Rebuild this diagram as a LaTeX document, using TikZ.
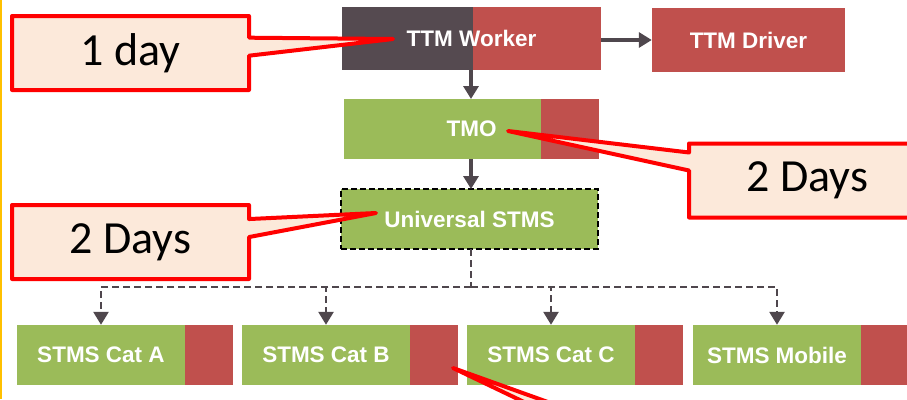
\documentclass[tikz,border=0pt]{standalone}
\usepackage{fontspec}
\setmainfont{Carlito}
\newfontfamily\boxfont{Liberation Sans}
\usetikzlibrary{positioning,shapes.callouts,arrows.meta}
\definecolor{stmsgreen}{HTML}{9BBB59}
\definecolor{stmsred}{HTML}{C0504D}
\definecolor{ttmgrey}{HTML}{554A50}
\definecolor{linegrey}{HTML}{4F474D}
\definecolor{notefill}{HTML}{FCE9DA}
\definecolor{edgegold}{HTML}{FFC000}

\begin{document}
\begin{tikzpicture}[%
            x=1pt,
            y=-1pt,
            >={Triangle[length=13pt,width=15pt]},
            box/.style={%
            	rectangle,
            	minimum height=60pt,
            	inner sep=0pt,
            	text=white,
            	font=\boxfont\bfseries\fontsize{22.5}{22.5}\selectfont
            },
            leftpart/.style 2 args={%
            	path picture={\fill[#1] (path picture bounding box.north west)
            		rectangle ([xshift=#2]path picture bounding box.south west);}
            },
            stms/.style={%
            	box,
            	fill=stmsgreen,
            	minimum width=168pt
            },
            flag/.style={%
            	rectangle,
            	fill=stmsred,
            	inner sep=0pt,
            	minimum width=48pt,
            	minimum height=60pt
            },
            link/.style={%
            	->,
            	draw=linegrey,
            	line width=3.2pt
            },
            dlink/.style={%
            	draw=linegrey,
            	line width=2.6pt,
            	dash pattern=on 7pt off 4pt
            },
            note/.style={%
            	rectangle callout,
            	draw=red,
            	fill=notefill,
            	line width=4pt,
            	line join=round,
            	minimum width=237pt,
            	minimum height=74pt,
            	callout pointer width=18pt,
            	font=\fontsize{46}{46}\selectfont
            }
            ]
            \useasboundingbox (0,0) rectangle (907,399);
            \clip (0,0) rectangle (907,399);
            \draw[edgegold, line width=2pt] (1,0) -- (1,399);

            % top of the tree
            \node[box, fill=stmsred, minimum width=259pt, minimum height=63pt,
                  leftpart={ttmgrey}{131pt}] (wrk) at (471.5,38.5) {TTM Worker};
            \node[box, fill=stmsred, minimum width=193pt, minimum height=64pt] (drv) at (748.5,40) {TTM Driver};
            \node[box, fill=stmsred, minimum width=255pt,
                  leftpart={stmsgreen}{197pt}] (tmo) at (471.5,129) {TMO};
            \node[box, fill=stmsgreen, minimum width=257pt, draw=black,
                  line width=2.2pt, dash pattern=on 6pt off 3pt] (uni) at (469.5,219) {Universal STMS};

            % STMS row
            \node[stms] (cata) at (101,355) {STMS Cat A};
            \node[flag, right=0pt of cata] (cataf) {};
            \node[stms] (catb) at (326,355) {STMS Cat B};
            \node[flag, right=0pt of catb] (catbf) {};
            \node[stms] (catc) at (551,355) {STMS Cat C};
            \node[flag, right=0pt of catc] (catcf) {};
            \node[stms] (mob) at (777,355) {STMS Mobile};
            \node[flag, right=0pt of mob] (mobf) {};

            \draw[link] (wrk.east |- drv.west) -- (drv.west);
            \draw[link] (471,70) -- (471,99);
            \draw[link] (471,159) -- (471,189);

            \coordinate (bus) at (471,287);
            \draw[dlink] (471,249) -- (bus);
            \draw[dlink,->] (bus) -| (cata.north);
            \draw[dlink,->] (bus) -| (catb.north);
            \draw[dlink,->] (bus) -| (catc.north);
            \draw[dlink,->] (bus) -| (mob.north);

            % time notes
            \coordinate (tipwrk) at (393,39);
            \coordinate (tiptmo) at (508,131);
            \coordinate (tipuni) at (376,213);
            \coordinate (tipcatb) at (453,368);
            \node[note, callout absolute pointer=(tipwrk)] (notewrk) at (130.5,53) {1 day};
            \node[note, callout absolute pointer=(tiptmo)] (notetmo) at (807.5,180.5) {2 Days};
            \node[note, callout absolute pointer=(tipuni)] (noteuni) at (130.5,242) {2 Days};
            \node[note, callout absolute pointer=(tipcatb)] (notecatb) at (722,450) {};
\end{tikzpicture}
\end{document}
